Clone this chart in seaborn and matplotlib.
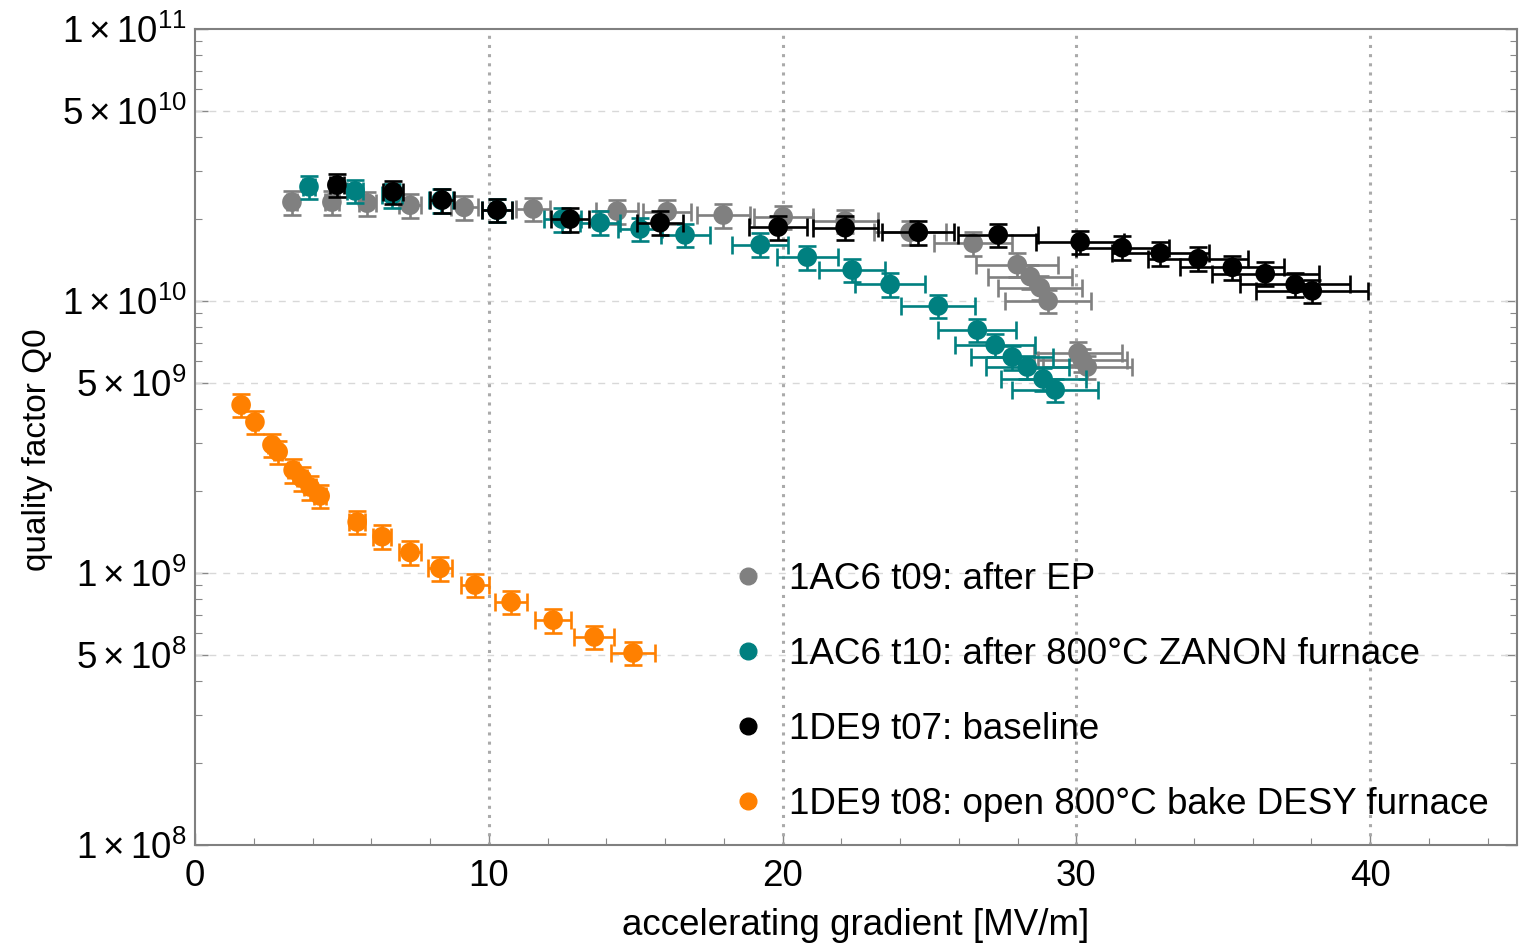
import numpy as np
import pandas as pd
import matplotlib
matplotlib.use("Agg")
import matplotlib.pyplot as plt
import matplotlib.ticker as mticker
from matplotlib.lines import Line2D
import seaborn as sns

# ---- data ----
grey_x = [3.30, 4.66, 5.86, 7.32, 9.16, 11.51, 14.37, 16.07, 17.98, 20.02, 22.13,
          24.34, 26.49, 27.99, 28.43, 28.77, 29.04, 30.06, 30.20, 30.37]
grey_y = [2.31e10, 2.31e10, 2.29e10, 2.25e10, 2.21e10, 2.18e10, 2.14e10, 2.13e10, 2.07e10,
          2.04e10, 1.97e10, 1.79e10, 1.63e10, 1.36e10, 1.23e10, 1.12e10, 1.00e10,
          6.44e9, 6.07e9, 5.72e9]

teal_x = [3.88, 5.45, 6.71, 8.38, 10.28, 12.50, 13.79, 15.15, 16.68, 19.24, 20.84,
          22.37, 23.66, 25.30, 26.63, 27.24, 27.82, 28.33, 28.87, 29.28]
teal_y = [2.63e10, 2.54e10, 2.45e10, 2.35e10, 2.16e10, 2.00e10, 1.94e10, 1.84e10, 1.75e10,
          1.61e10, 1.45e10, 1.30e10, 1.15e10, 9.59e9, 7.82e9, 6.89e9, 6.22e9, 5.72e9,
          5.17e9, 4.71e9]

black_x = [4.83, 6.74, 8.41, 10.28, 12.77, 15.83, 19.85, 22.13, 24.62, 27.34, 30.13,
           31.56, 32.86, 34.15, 35.31, 36.43, 37.45, 38.03]
black_y = [2.67e10, 2.52e10, 2.35e10, 2.16e10, 2.00e10, 1.94e10, 1.87e10, 1.86e10, 1.79e10,
           1.75e10, 1.65e10, 1.57e10, 1.50e10, 1.43e10, 1.33e10, 1.26e10, 1.15e10, 1.09e10]

orange_x = [1.57, 2.04, 2.62, 2.83, 3.34, 3.64, 3.92, 4.26, 5.52, 6.37, 7.32, 8.34,
            9.53, 10.76, 12.19, 13.59, 14.91]
orange_y = [4.15e9, 3.59e9, 2.96e9, 2.79e9, 2.39e9, 2.23e9, 2.07e9, 1.92e9, 1.54e9,
            1.36e9, 1.19e9, 1.04e9, 9.03e8, 7.82e8, 6.71e8, 5.82e8, 5.08e8]

labels = ["1AC6 t09: after EP",
          "1AC6 t10: after 800°C ZANON furnace",
          "1DE9 t07: baseline",
          "1DE9 t08: open 800°C bake DESY furnace"]
colors = ["#808080", "#008080", "#000000", "#ff8000"]
rel_err_x = 0.05
rel_err_y = 0.10

sns.set_theme(style="white")
plt.rcParams['font.family'] = ['Liberation Sans', 'DejaVu Sans']
plt.rcParams['mathtext.fontset'] = 'custom'
plt.rcParams['mathtext.rm'] = 'Liberation Sans'
plt.rcParams['mathtext.it'] = 'Liberation Sans'
plt.rcParams['text.color'] = 'black'
plt.rcParams['axes.labelcolor'] = 'black'

FS = 26.5

fig = plt.figure(figsize=(15.32, 9.44), dpi=100)
ax = fig.add_axes([195/1532, 1 - 845/944, (1517-195)/1532, (845-29)/944])

series = [(grey_x, grey_y), (teal_x, teal_y), (black_x, black_y), (orange_x, orange_y)]
frames = []
for lab, (xs, ys) in zip(labels, series):
    frames.append(pd.DataFrame({"x": xs, "y": ys, "series": lab}))
df = pd.concat(frames, ignore_index=True)

for i, (lab, col) in enumerate(zip(labels, colors)):
    d = df[df.series == lab]
    ax.errorbar(d.x, d.y, xerr=rel_err_x * d.x, yerr=rel_err_y * d.y, fmt='none',
                ecolor=col, elinewidth=1.9, capsize=6.5, capthick=1.9, zorder=3 + 2 * i)
    sns.scatterplot(data=d, x="x", y="y", color=col, s=200, edgecolor='none',
                    ax=ax, zorder=4 + 2 * i, legend=False)

ax.set_yscale('log')
ax.set_xlim(0, 45)
ax.set_ylim(1e8, 1e11)

yt = [1e8, 5e8, 1e9, 5e9, 1e10, 5e10, 1e11]
ytl = [r"$1\times10^{8}$", r"$5\times10^{8}$", r"$1\times10^{9}$", r"$5\times10^{9}$",
       r"$1\times10^{10}$", r"$5\times10^{10}$", r"$1\times10^{11}$"]
ax.set_yticks(yt)
ax.set_yticklabels(ytl)
ax.yaxis.set_minor_locator(mticker.LogLocator(base=10, subs=np.arange(2, 10)))
ax.yaxis.set_minor_formatter(mticker.NullFormatter())
ax.set_xticks([0, 10, 20, 30, 40])
ax.xaxis.set_minor_locator(mticker.MultipleLocator(2))

ax.tick_params(axis='both', which='both', direction='in', colors='#888888',
               labelcolor='black', labelsize=FS)
ax.tick_params(axis='y', which='both', left=True, right=True)
ax.tick_params(axis='x', which='both', bottom=True, top=False)
ax.tick_params(which='major', length=9, width=1.0)
ax.tick_params(which='minor', length=5, width=0.8)
ax.tick_params(axis='x', which='major', pad=10)
ax.tick_params(axis='y', which='major', pad=6)

for s in ax.spines.values():
    s.set_color('#808080')
    s.set_linewidth(1.5)

for yv in [5e8, 1e9, 5e9, 1e10, 5e10]:
    ax.axhline(yv, color='#d8d8d8', lw=1.0, ls=(0, (5, 5)), zorder=1)
for xv in [10, 20, 30, 40]:
    ax.axvline(xv, color='#aaaaaa', lw=2.2, ls=(0, (1, 2)), zorder=1)

ax.set_xlabel("accelerating gradient [MV/m]", fontsize=FS, labelpad=10)
ax.set_ylabel("quality factor Q0", fontsize=24)
ax.yaxis.set_label_coords(-0.1074, 0.484)

handles = [Line2D([], [], ls='none', marker='o', color=c, markersize=12) for c in colors]
ax.legend(handles, labels, loc='upper left', frameon=False, fontsize=FS,
          bbox_to_anchor=(0.378, 0.387), handletextpad=0.55, labelspacing=1.08,
          handlelength=1.1)

fig.savefig("out.png", dpi=100)
